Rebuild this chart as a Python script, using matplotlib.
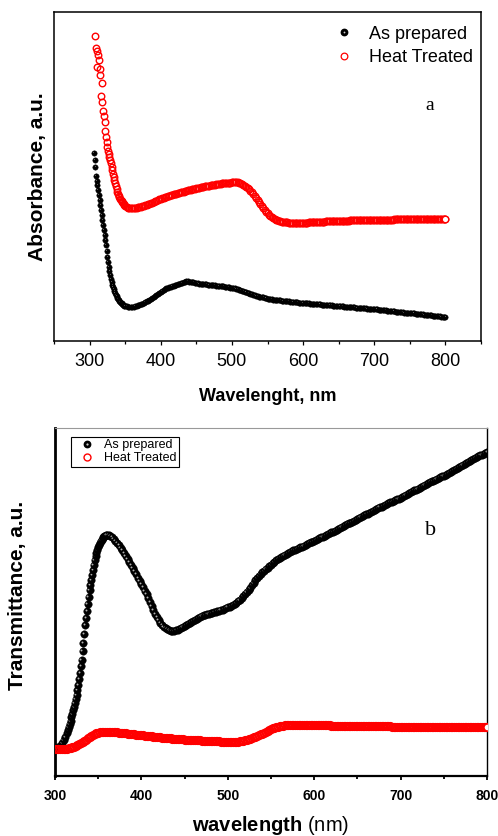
import numpy as np
import matplotlib.pyplot as plt
from matplotlib.lines import Line2D
from matplotlib.transforms import offset_copy

plt.rcParams['font.family'] = ['Liberation Sans', 'DejaVu Sans']
plt.rcParams['mathtext.fontset'] = 'custom'
plt.rcParams['mathtext.bf'] = 'Liberation Sans:bold'
plt.rcParams['mathtext.rm'] = 'Liberation Sans'

# --- (a) absorbance spectra ---
wl_abs_as = np.concatenate([np.arange(306, 351), np.arange(352, 801, 2)])
abs_as = [
    1.88, 1.81, 1.74, 1.65, 1.60, 1.56, 1.51, 1.46, 1.41, 1.36,
    1.31, 1.26, 1.21, 1.16, 1.11, 1.06, 1.01, 0.96, 0.90, 0.84,
    0.79, 0.74, 0.70, 0.66, 0.62, 0.59, 0.56, 0.54, 0.52, 0.50,
    0.48, 0.46, 0.45, 0.43, 0.42, 0.41, 0.40, 0.39, 0.38, 0.38,
    0.37, 0.36, 0.36, 0.35, 0.35,
    0.35, 0.34, 0.34, 0.34, 0.34, 0.34, 0.35, 0.35, 0.36, 0.36,
    0.37, 0.37, 0.38, 0.39, 0.40, 0.40, 0.41, 0.42, 0.43, 0.44,
    0.45, 0.46, 0.47, 0.48, 0.49, 0.50, 0.51, 0.52, 0.53, 0.53,
    0.54, 0.54, 0.55, 0.55, 0.56, 0.56, 0.57, 0.57, 0.58, 0.58,
    0.59, 0.59, 0.60, 0.60, 0.59, 0.59, 0.59, 0.59, 0.58, 0.58,
    0.58, 0.57, 0.57, 0.57, 0.57, 0.57, 0.57, 0.56, 0.56, 0.56,
    0.56, 0.56, 0.56, 0.55, 0.55, 0.55, 0.55, 0.55, 0.55, 0.54,
    0.54, 0.54, 0.54, 0.53, 0.53, 0.53, 0.53, 0.52, 0.52, 0.51,
    0.51, 0.50, 0.50, 0.49, 0.49, 0.48, 0.48, 0.47, 0.47, 0.46,
    0.46, 0.45, 0.45, 0.44, 0.44, 0.44, 0.44, 0.43, 0.43, 0.42,
    0.42, 0.42, 0.42, 0.41, 0.41, 0.41, 0.41, 0.41, 0.41, 0.40,
    0.40, 0.40, 0.40, 0.40, 0.40, 0.39, 0.39, 0.39, 0.39, 0.39,
    0.39, 0.38, 0.38, 0.38, 0.38, 0.38, 0.38, 0.38, 0.38, 0.37,
    0.37, 0.37, 0.37, 0.37, 0.37, 0.37, 0.37, 0.36, 0.36, 0.36,
    0.36, 0.36, 0.36, 0.36, 0.36, 0.35, 0.35, 0.35, 0.35, 0.35,
    0.35, 0.35, 0.35, 0.34, 0.34, 0.34, 0.34, 0.34, 0.34, 0.34,
    0.34, 0.33, 0.33, 0.33, 0.33, 0.33, 0.33, 0.33, 0.33, 0.32,
    0.32, 0.32, 0.32, 0.32, 0.32, 0.32, 0.32, 0.31, 0.31, 0.31,
    0.31, 0.31, 0.31, 0.30, 0.30, 0.30, 0.30, 0.30, 0.30, 0.29,
    0.29, 0.29, 0.29, 0.29, 0.29, 0.28, 0.28, 0.28, 0.28, 0.28,
    0.28, 0.28, 0.28, 0.27, 0.27, 0.27, 0.27, 0.27, 0.27, 0.26,
    0.26, 0.26, 0.26, 0.26, 0.26, 0.25, 0.25, 0.25, 0.25, 0.25,
    0.25, 0.24, 0.24, 0.24, 0.24,
]

wl_abs_ht = np.concatenate([np.arange(308, 351), np.arange(352, 801, 2)])
abs_ht = [
    3.05, 2.93, 2.74, 2.90, 2.86, 2.81, 2.72, 2.66, 2.45, 2.58,
    2.39, 2.30, 2.25, 2.19, 2.10, 2.04, 1.99, 1.94, 1.90, 1.87,
    1.84, 1.81, 1.78, 1.74, 1.71, 1.67, 1.64, 1.61, 1.58, 1.55,
    1.52, 1.49, 1.47, 1.45, 1.44, 1.42, 1.41, 1.40, 1.39, 1.38,
    1.37, 1.36, 1.35,
    1.34, 1.33, 1.33, 1.33, 1.33, 1.33, 1.33, 1.33, 1.34, 1.34,
    1.34, 1.35, 1.35, 1.36, 1.36, 1.37, 1.37, 1.38, 1.38, 1.39,
    1.40, 1.40, 1.41, 1.42, 1.42, 1.43, 1.43, 1.44, 1.44, 1.45,
    1.45, 1.46, 1.46, 1.47, 1.47, 1.47, 1.48, 1.48, 1.49, 1.49,
    1.49, 1.50, 1.50, 1.51, 1.51, 1.51, 1.52, 1.52, 1.52, 1.53,
    1.53, 1.53, 1.54, 1.54, 1.54, 1.55, 1.55, 1.55, 1.55, 1.56,
    1.56, 1.56, 1.56, 1.57, 1.57, 1.57, 1.57, 1.58, 1.58, 1.58,
    1.58, 1.58, 1.58, 1.58, 1.59, 1.59, 1.59, 1.59, 1.59, 1.58,
    1.58, 1.57, 1.56, 1.55, 1.54, 1.53, 1.52, 1.50, 1.49, 1.47,
    1.45, 1.43, 1.41, 1.39, 1.37, 1.35, 1.33, 1.31, 1.29, 1.28,
    1.26, 1.25, 1.24, 1.23, 1.22, 1.21, 1.21, 1.20, 1.20, 1.19,
    1.19, 1.19, 1.19, 1.19,
    1.18, 1.18, 1.18, 1.18, 1.18, 1.18, 1.18, 1.18, 1.18, 1.18,
    1.18, 1.18, 1.18, 1.18, 1.19, 1.19, 1.19, 1.19, 1.19, 1.19,
    1.19, 1.19, 1.19, 1.19, 1.19, 1.19, 1.20, 1.20, 1.20, 1.20,
    1.20, 1.20, 1.20, 1.20, 1.20, 1.20, 1.20, 1.20, 1.20, 1.20,
    1.20, 1.20, 1.20, 1.21, 1.21, 1.21, 1.21, 1.21, 1.21, 1.21,
    1.21, 1.21, 1.21, 1.21, 1.21, 1.21, 1.21, 1.21, 1.21, 1.21,
    1.21, 1.21, 1.21, 1.21, 1.21, 1.21, 1.21, 1.21, 1.21, 1.21,
    1.21, 1.21, 1.21, 1.21, 1.22, 1.22, 1.22, 1.22, 1.22, 1.22,
    1.22, 1.22, 1.22, 1.22, 1.22, 1.22, 1.22, 1.22, 1.22, 1.22,
    1.22, 1.22, 1.22, 1.22, 1.22, 1.22, 1.22, 1.22, 1.22, 1.22,
    1.22, 1.22, 1.22, 1.22, 1.22, 1.22, 1.22, 1.22, 1.22, 1.22,
    1.22,
]

# --- (b) transmittance spectra ---
wl_tr_as = np.concatenate([np.arange(300, 315, 2), np.arange(315, 361),
                           np.arange(362, 801, 2)])
tr_as = [
    0.28, 0.28, 0.29, 0.30, 0.33, 0.36, 0.39, 0.43,
    0.46, 0.49, 0.52, 0.55, 0.59, 0.62, 0.66, 0.69, 0.73, 0.77,
    0.81, 0.86, 0.91, 0.97, 1.03, 1.10, 1.16, 1.25, 1.33, 1.42,
    1.51, 1.58, 1.65, 1.72, 1.79, 1.86, 1.91, 1.96, 2.01, 2.06,
    2.11, 2.16, 2.20, 2.23, 2.26, 2.29, 2.31, 2.33, 2.35, 2.36,
    2.38, 2.39, 2.40, 2.40, 2.41, 2.41,
    2.41, 2.40, 2.39, 2.37, 2.35, 2.33, 2.31, 2.28, 2.26, 2.23,
    2.20, 2.17, 2.14, 2.11, 2.08, 2.05, 2.02, 1.98, 1.95, 1.92,
    1.89, 1.85, 1.82, 1.78, 1.74, 1.70, 1.66, 1.62, 1.59, 1.56,
    1.53, 1.51, 1.49, 1.48, 1.47, 1.46, 1.45, 1.45, 1.45, 1.46,
    1.46, 1.47, 1.48, 1.49, 1.50, 1.51, 1.52, 1.53, 1.54, 1.55,
    1.56, 1.57, 1.58, 1.59, 1.60, 1.61, 1.61, 1.62, 1.62, 1.63,
    1.63, 1.64, 1.64, 1.65, 1.65, 1.66, 1.66, 1.67, 1.68, 1.69,
    1.69, 1.70, 1.71, 1.72, 1.73, 1.75, 1.76, 1.78, 1.80, 1.82,
    1.84, 1.86, 1.88, 1.91, 1.93, 1.96, 1.98, 2.00, 2.02, 2.04,
    2.05, 2.07, 2.08, 2.10, 2.11, 2.13, 2.14, 2.16, 2.17, 2.18,
    2.19, 2.20, 2.21, 2.22, 2.23, 2.24, 2.25, 2.26, 2.26, 2.27,
    2.28, 2.29, 2.29, 2.30, 2.31, 2.32, 2.33, 2.34, 2.34, 2.35,
    2.36, 2.37, 2.38, 2.39, 2.39, 2.40, 2.41, 2.42, 2.43, 2.44,
    2.44, 2.45, 2.46, 2.47, 2.48, 2.49, 2.50, 2.51, 2.52, 2.53,
    2.53, 2.54, 2.55, 2.56, 2.57, 2.58, 2.59, 2.60, 2.61, 2.62,
    2.62, 2.63, 2.64, 2.65, 2.66, 2.67, 2.68, 2.69, 2.69, 2.70,
    2.71, 2.72, 2.73, 2.74, 2.74, 2.75, 2.76, 2.77, 2.77, 2.78,
    2.79, 2.80, 2.81, 2.82, 2.83, 2.84, 2.85, 2.86, 2.86, 2.87,
    2.88, 2.89, 2.90, 2.91, 2.92, 2.93, 2.94, 2.95, 2.95, 2.96,
    2.97, 2.98, 2.99, 3.00, 3.00, 3.01, 3.02, 3.03, 3.04, 3.05,
    3.06, 3.07, 3.08, 3.09, 3.10, 3.11, 3.12, 3.13, 3.14, 3.15,
    3.16, 3.17, 3.18, 3.19, 3.20, 3.21, 3.21, 3.22, 3.23, 3.24,
]

wl_tr_ht = np.arange(300, 801, 2)
tr_ht = [
    0.27, 0.27, 0.27, 0.27, 0.27, 0.27, 0.27, 0.27, 0.28, 0.28,
    0.29, 0.29, 0.30, 0.31, 0.32, 0.33, 0.34, 0.35, 0.36, 0.38,
    0.39, 0.40, 0.41, 0.42, 0.43, 0.43, 0.44, 0.44, 0.44, 0.44,
    0.44, 0.44, 0.44, 0.44, 0.44, 0.44, 0.44, 0.43, 0.43, 0.43,
    0.43, 0.43, 0.42, 0.42, 0.42, 0.42, 0.42, 0.41, 0.41, 0.41,
    0.41, 0.41, 0.40, 0.40, 0.40, 0.40, 0.40, 0.39, 0.39, 0.39,
    0.39, 0.39, 0.38, 0.38, 0.38, 0.38, 0.38, 0.38, 0.37, 0.37,
    0.37, 0.37, 0.37, 0.37, 0.37, 0.36, 0.36, 0.36, 0.36, 0.36,
    0.36, 0.36, 0.36, 0.36, 0.36, 0.35, 0.35, 0.35, 0.35, 0.35,
    0.35, 0.35, 0.35, 0.35, 0.35, 0.35, 0.34, 0.34, 0.34, 0.34,
    0.34, 0.34, 0.34, 0.34, 0.34, 0.34, 0.34, 0.35, 0.35, 0.35,
    0.36, 0.36, 0.37, 0.37, 0.38, 0.39, 0.39, 0.40, 0.41, 0.42,
    0.42, 0.43, 0.44, 0.45, 0.46, 0.47, 0.48, 0.48, 0.49, 0.49,
    0.50, 0.50, 0.50, 0.51, 0.51, 0.51, 0.51, 0.51, 0.51, 0.51,
    0.51, 0.51, 0.51, 0.51, 0.51, 0.51, 0.51, 0.51, 0.51, 0.51,
    0.51, 0.51, 0.51, 0.51, 0.51, 0.51, 0.51, 0.51, 0.51, 0.51,
    0.50, 0.50, 0.50, 0.50, 0.50, 0.50, 0.50, 0.50, 0.50, 0.50,
    0.50, 0.50, 0.50, 0.50, 0.50, 0.50, 0.50, 0.50, 0.50, 0.50,
    0.50, 0.50, 0.50, 0.50, 0.50, 0.50, 0.50, 0.50, 0.50, 0.50,
    0.50, 0.50, 0.50, 0.50, 0.50, 0.49, 0.49, 0.49, 0.49, 0.49,
    0.49, 0.49, 0.49, 0.49, 0.49, 0.49, 0.49, 0.49, 0.49, 0.49,
    0.49, 0.49, 0.49, 0.49, 0.49, 0.49, 0.49, 0.49, 0.49, 0.49,
    0.49, 0.49, 0.49, 0.49, 0.49, 0.49, 0.49, 0.49, 0.49, 0.49,
    0.49, 0.49, 0.49, 0.49, 0.49, 0.49, 0.49, 0.49, 0.49, 0.49,
    0.49, 0.49, 0.49, 0.49, 0.49, 0.49, 0.49, 0.49, 0.49, 0.49,
    0.49,
]

series_labels = ['As prepared', 'Heat Treated']
RED = '#ff0000'


def sphere_points(ax, x, y, size, hl_size, shift, hl_color):
    # black balls with a small specular dot, drawn point by point so that
    # each ball covers the highlight of the one before it
    hl = offset_copy(ax.transData, fig=ax.figure, x=-shift, y=shift, units='points')
    for xi, yi in zip(x, y):
        ax.plot(xi, yi, 'o', ms=size, mfc='black', mec='black', mew=0.3, zorder=2)
        ax.plot(xi, yi, 'o', ms=hl_size, mfc=hl_color, mec='none',
                transform=hl, zorder=2)


def ring_points(ax, x, y, size, width):
    # open circles; the densely packed rings merge into a solid band,
    # only the final point keeps its white centre
    ax.plot(x, y, ls='none', marker='o', ms=size, mfc='none', mec=RED,
            mew=width, zorder=3)
    ax.plot(x[-1], y[-1], ls='none', marker='o', ms=size, mfc='white', mec=RED,
            mew=width, zorder=3)


fig = plt.figure(figsize=(4.98, 8.36), dpi=100)
ax1 = fig.add_axes([0.1084, 0.5921, 0.8575, 0.3935])
ax2 = fig.add_axes([0.1104, 0.0718, 0.8675, 0.4163])

# ---------- panel a ----------
sphere_points(ax1, wl_abs_as, abs_as, 3.9, 0.8, 0.5, '#686868')
ring_points(ax1, wl_abs_ht, abs_ht, 4.7, 1.0)

ax1.set_xlim(250, 850)
ax1.set_ylim(0, 3.29)
ax1.set_xticks(range(300, 801, 100))
ax1.set_xticks(range(250, 851, 50), minor=True)
ax1.set_yticks([])
ax1.tick_params(axis='x', which='major', direction='out', length=3, width=0.9,
                labelsize=13, pad=5.5)
ax1.tick_params(axis='x', which='minor', direction='out', length=1.8, width=0.9)
for s in ax1.spines.values():
    s.set_linewidth(1.1)
ax1.set_xlabel('Wavelenght, nm', fontsize=13, fontweight='bold', labelpad=13)
ax1.set_ylabel('Absorbance, a.u.', fontsize=15, fontweight='bold', labelpad=5)
ax1.text(0.88, 0.717, 'a', transform=ax1.transAxes, ha='center', va='center',
         fontsize=14, family='Liberation Serif')

h_black = (Line2D([], [], ls='none', marker='o', ms=4.6, mfc='black', mec='black'),
           Line2D([], [], ls='none', marker='o', ms=1.3, mfc='#cccccc', mec='none'))
h_red = Line2D([], [], ls='none', marker='o', ms=4.8, mfc='white', mec=RED, mew=0.9)
ax1.legend([h_black, h_red], series_labels, loc='upper right',
           bbox_to_anchor=(1.014, 1.0), frameon=False, fontsize=13,
           handlelength=1.0, handletextpad=0.9, labelspacing=0.37,
           borderpad=0.3, borderaxespad=0.45)

# ---------- panel b ----------
sphere_points(ax2, wl_tr_as, tr_as, 5.4, 1.4, 1.0, '#b0b0b0')
ring_points(ax2, wl_tr_ht, tr_ht, 5.3, 1.3)

ax2.set_xlim(300, 800)
ax2.set_ylim(0, 3.48)
ax2.set_xticks(range(300, 801, 100))
ax2.set_xticks(range(350, 801, 100), minor=True)
ax2.set_yticks([])
ax2.tick_params(axis='x', which='major', direction='out', length=3.2, width=1.3,
                labelsize=10, pad=6)
ax2.tick_params(axis='x', which='minor', direction='out', length=1.8, width=1.3)
for lab in ax2.get_xticklabels():
    lab.set_fontweight('bold')
ax2.spines['left'].set_linewidth(2.0)
ax2.spines['bottom'].set_linewidth(1.6)
ax2.spines['right'].set_linewidth(1.0)
ax2.spines['top'].set_linewidth(0.8)
ax2.spines['top'].set_color('#999999')
ax2.set_xlabel(r'$\mathbf{wavelength}$ (nm)', fontsize=14.5, labelpad=8)
ax2.set_ylabel('Transmittance, a.u.', fontsize=15, fontweight='bold', labelpad=17)
ax2.yaxis.set_label_coords(-0.065, 0.52)
ax2.text(0.870, 0.704, 'b', transform=ax2.transAxes, ha='center', va='center',
         fontsize=16, family='Liberation Serif')

h_sph = (Line2D([], [], ls='none', marker='o', ms=4.6, mfc='black', mec='black'),
         Line2D([], [], ls='none', marker='o', ms=1.6, mfc='#cccccc', mec='none'))
h_circ = Line2D([], [], ls='none', marker='o', ms=5.0, mfc='white', mec=RED, mew=1.0)
leg = ax2.legend([h_sph, h_circ], series_labels, loc='upper left',
                 bbox_to_anchor=(0.037, 0.974), fontsize=9, fancybox=False,
                 edgecolor='black', framealpha=1, handlelength=2.16,
                 handletextpad=0.28, labelspacing=0.05, borderpad=0.2,
                 borderaxespad=0)
leg.get_frame().set_linewidth(0.8)

fig.savefig('out.png', dpi=100)
